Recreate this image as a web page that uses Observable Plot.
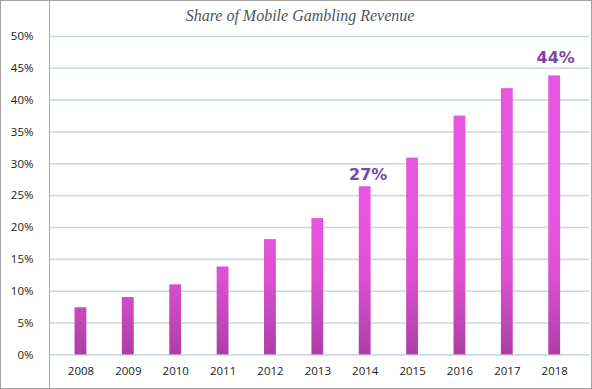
<!DOCTYPE html>
<html>
<head>
<meta charset="utf-8">
<script src="https://cdn.jsdelivr.net/npm/d3@7"></script>
<script src="https://cdn.jsdelivr.net/npm/@observablehq/plot@0.6"></script>
<style>
  html, body { margin: 0; padding: 0; background: #fff; }
  #wrap { position: relative; width: 592px; height: 389px; box-sizing: border-box; border: 1px solid #a3a3a3; overflow: hidden; background: #fff; }
  #vline { position: absolute; left: 48px; top: 0; width: 1px; height: 389px; background: #a8a8a8; }
  #title { position: absolute; left: 0; width: 598px; top: 6px; text-align: center; font-family: "Liberation Serif", "DejaVu Serif", serif; font-style: italic; font-size: 16px; color: #4b5661; }
  #chart { position: absolute; left: -1px; top: -1px; }
</style>
</head>
<body>
<div id="wrap">
  <div id="chart"></div>
  <div id="vline"></div>
  <div id="title">Share of Mobile Gambling Revenue</div>
</div>
<script>
const years = ["2008","2009","2010","2011","2012","2013","2014","2015","2016","2017","2018"];
const shares = [7.4, 9.0, 11.0, 13.8, 18.1, 21.4, 26.4, 30.9, 37.5, 41.8, 43.8];
const yTicks = [0, 5, 10, 15, 20, 25, 30, 35, 40, 45, 50];
const labelYears = ["2014", "2018"];
const labelValues = [27, 44];
const labelTexts = ["27%", "44%"];

const data = years.map((y, i) => ({year: y, share: shares[i]}));
const labels = labelYears.map((y, i) => ({year: y, share: shares[years.indexOf(y)], text: labelTexts[i], v: labelValues[i]}));

function gradientDefs(index, scales, values, dimensions) {
  const ns = "http://www.w3.org/2000/svg";
  const defs = document.createElementNS(ns, "defs");
  const g = document.createElementNS(ns, "linearGradient");
  g.setAttribute("id", "barGrad");
  g.setAttribute("gradientUnits", "userSpaceOnUse");
  g.setAttribute("x1", "0"); g.setAttribute("x2", "0");
  g.setAttribute("y1", String(scales.y(22)));
  g.setAttribute("y2", String(scales.y(0)));
  [["0%", "#e756df"], ["45%", "#dc50d2"], ["100%", "#ad3ea6"]].forEach(([o, c]) => {
    const s = document.createElementNS(ns, "stop");
    s.setAttribute("offset", o);
    s.setAttribute("stop-color", c);
    g.appendChild(s);
  });
  defs.appendChild(g);
  return defs;
}

const chart = Plot.plot({
  width: 592,
  height: 389,
  marginLeft: 49,
  marginRight: 2,
  marginTop: 36,
  marginBottom: 34,
  style: {background: "transparent", fontFamily: "'Open Sans', sans-serif", fontSize: "11.5px", color: "#222"},
  x: {type: "band", domain: years, paddingInner: 0.75, paddingOuter: 0.575, align: 0.47, round: false, label: null},
  y: {domain: [0, 50], label: null},
  marks: [
    gradientDefs,
    Plot.ruleY(yTicks, {stroke: "#cadae2", strokeWidth: 1.6}),
    Plot.barY(data, {x: "year", y: "share", fill: "url(#barGrad)"}),
    Plot.axisX({tickSize: 0, tickPadding: 12, fontSize: 11.5, fill: "#222"}),
    Plot.axisY({ticks: yTicks, tickSize: 0, tickPadding: 16, tickFormat: d => d + "%", fontSize: 11.5, fill: "#222"}),
    Plot.text(labels.filter(d => d.year === "2014"), {x: "year", y: "share", text: "text", lineAnchor: "bottom", dy: -7, dx: 3, fill: "#7c45a8", fontSize: 16, fontWeight: "bold", fontFamily: "'DejaVu Sans', Verdana, sans-serif"}),
    Plot.text(labels.filter(d => d.year === "2018"), {x: "year", y: "share", text: "text", lineAnchor: "bottom", dy: -13, dx: 1, fill: "#7c45a8", fontSize: 16, fontWeight: "bold", fontFamily: "'DejaVu Sans', Verdana, sans-serif"})
  ]
});
document.getElementById("chart").appendChild(chart);
</script>
</body>
</html>
